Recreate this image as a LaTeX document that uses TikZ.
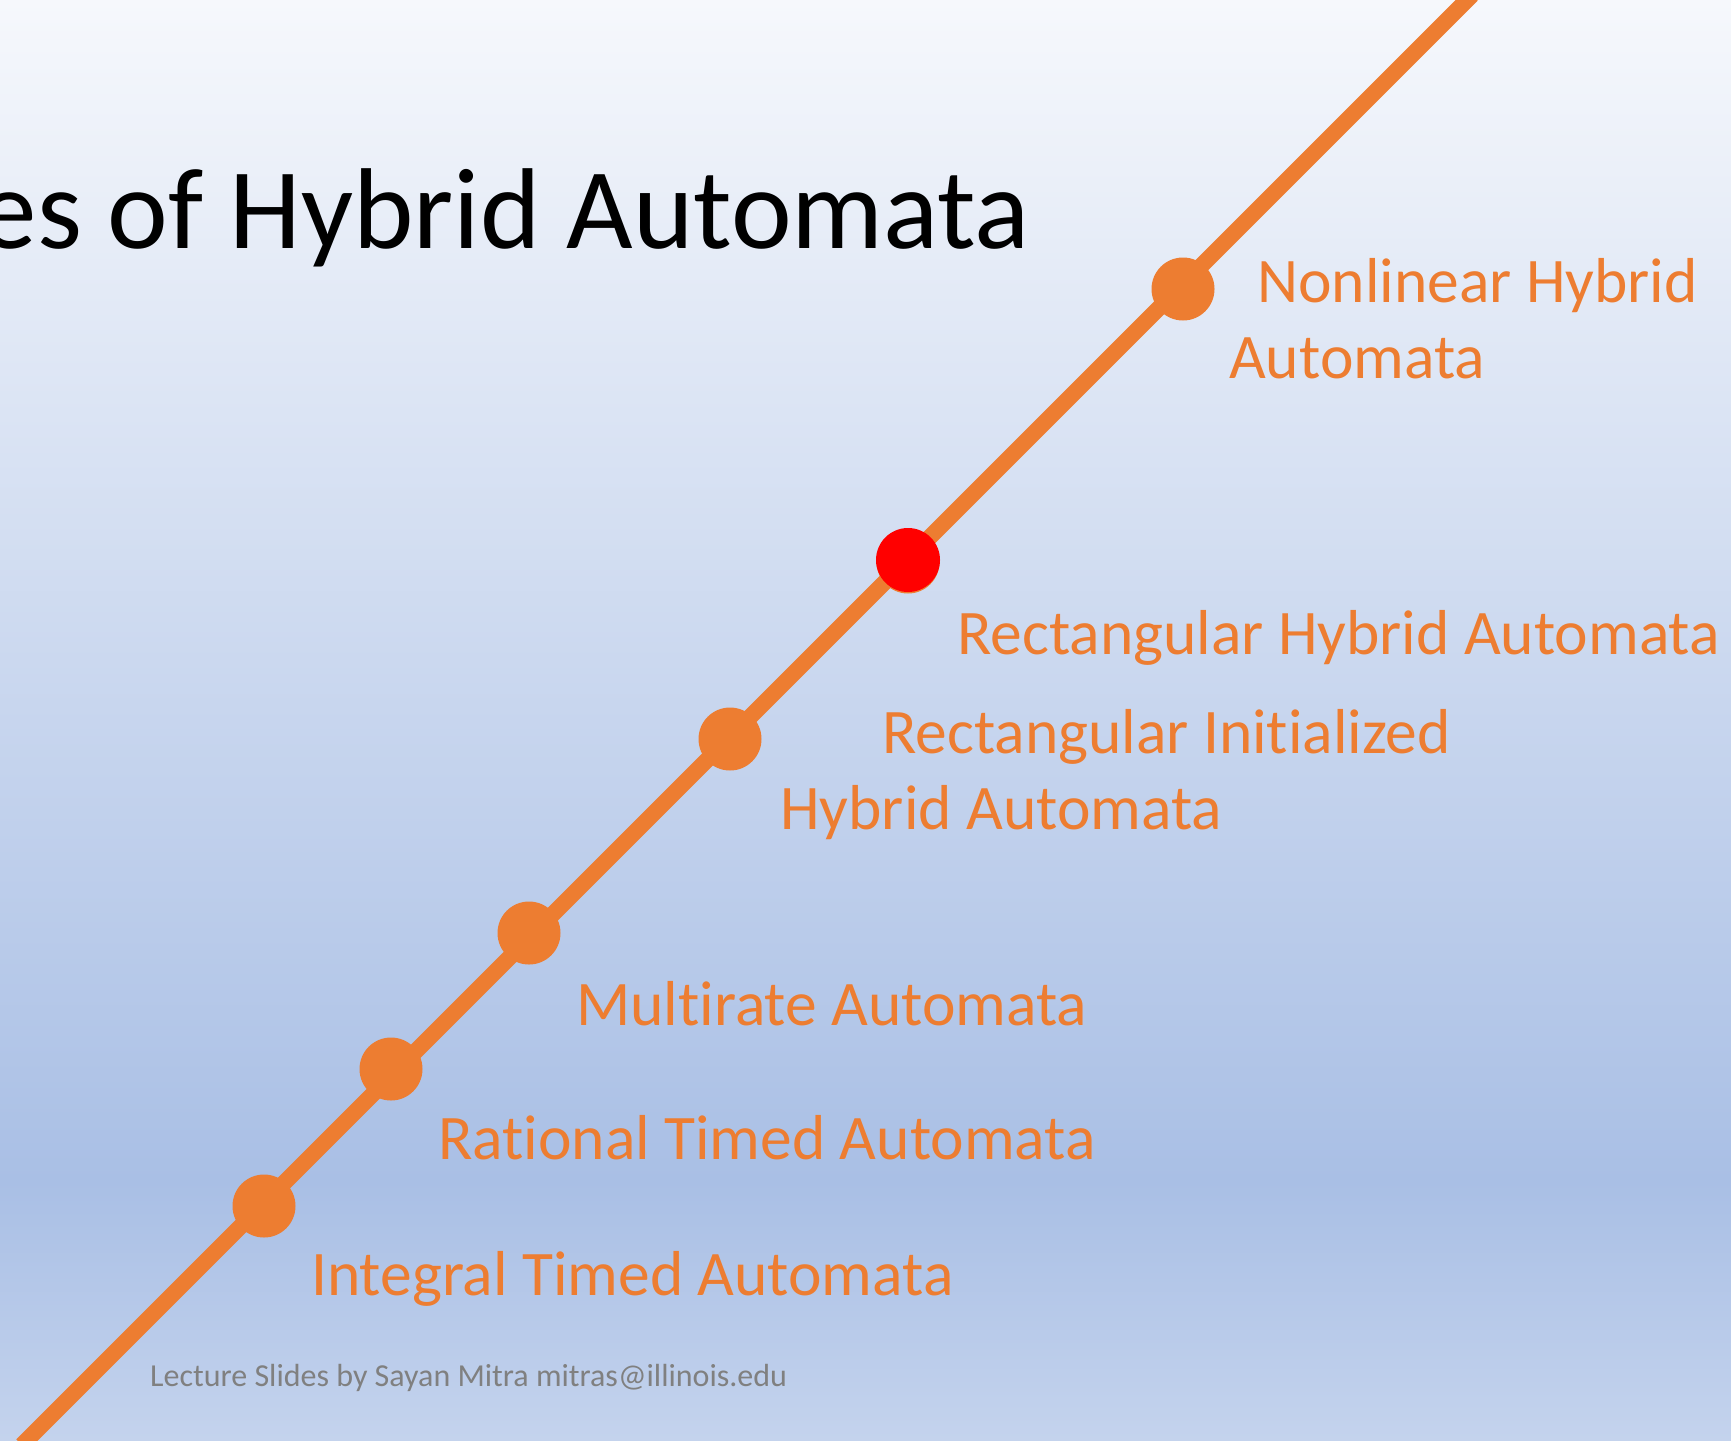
\documentclass[tikz,border=0pt]{standalone}
\usepackage{fontspec}
\setmainfont{Carlito}[Ligatures={NoCommon}]
\definecolor{acc}{RGB}{237,125,49}
\definecolor{footgray}{RGB}{128,128,128}
\definecolor{bgtop}{RGB}{246,248,252}
\definecolor{bgdark}{RGB}{169,191,229}
\definecolor{bgbot}{RGB}{196,211,237}
\pgfdeclareverticalshading{slidebg}{100bp}{color(0bp)=(bgbot); color(25bp)=(bgbot); color(34bp)=(bgdark); color(75bp)=(bgtop); color(100bp)=(bgtop)}
\tikzset{
  dot/.style={circle, fill=acc, draw=none, minimum size=63pt, inner sep=0pt},
  reddot/.style={circle, fill=red, draw=none, minimum size=64pt, inner sep=0pt},
  lab/.style={anchor=base west, inner sep=0pt, text=acc, font=\fontsize{63.5}{76}\selectfont},
  axisline/.style={draw=acc, line width=16pt}
}
\begin{document}
\begin{tikzpicture}[x=1pt,y=-1pt]
\useasboundingbox (0,0) rectangle (1731,1440);
\clip (0,0) rectangle (1731,1440);
\shade[shading=slidebg] (0,0) rectangle (1731,1440);
% title
\node[anchor=base east, inner sep=0pt, font=\fontsize{115}{138}\selectfont] (title) at (1030,248) {es of Hybrid Automata};
% line
\coordinate (s) at (22,1445);
\coordinate (e) at (1472,-5);
\draw[axisline] (s) -- (e);
% dots
\node[dot] (d1) at (264,1206) {};
\node[dot] (d2) at (391,1069) {};
\node[dot] (d3) at (529,933) {};
\node[dot] (d4) at (730,739) {};
\node[dot] (d5b) at (908,562) {};
\node[reddot] (d5) at (908,560) {};
\node[dot] (d6) at (1183,289) {};
% labels
\node[lab] (l6a) at (1257,302) {Nonlinear Hybrid};
\node[lab] (l6b) at (1229,378) {Automata};
\node[lab] (l5) at (957,654) {Rectangular Hybrid Automata};
\node[lab] (l4a) at (882,753) {Rectangular Initialized};
\node[lab] (l4b) at (780,829) {Hybrid Automata};
\node[lab] (l3) at (576,1025) {Multirate Automata};
\node[lab] (l2) at (438,1159) {Rational Timed Automata};
\node[lab] (l1) at (311,1295) {Integral Timed Automata};
% footer
\node[anchor=base west, inner sep=0pt, text=footgray, font=\fontsize{32}{38}\selectfont] (foot) at (150,1386) {Lecture Slides by Sayan Mitra mitras@illinois.edu};
\end{tikzpicture}
\end{document}
